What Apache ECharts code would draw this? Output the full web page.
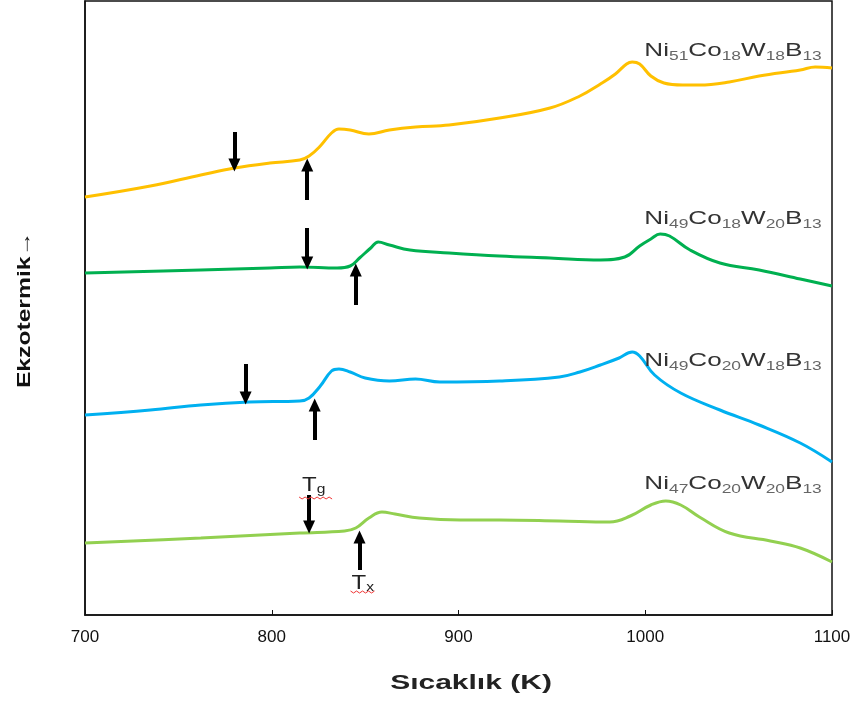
<!DOCTYPE html>
<html><head><meta charset="utf-8">
<script src="https://cdn.jsdelivr.net/npm/echarts@6/dist/echarts.min.js"></script>
<style>html,body{margin:0;padding:0;background:#fff}#c{width:864px;height:702px}</style>
</head><body><div id="c"></div>
<script>
// x ticks
const xTicks = [700, 800, 900, 1000, 1100];
// Curves: [temperature K, signal (arb. units)]
const sYellow = [[700,418],[735,429],[762,440],[780,447],[799,452],[815,455],[820,459],[826,469],[832,482],[836,486],[842,485],[852,481],[863,485],[877,488],[895,490],[922,497],[949,507],[965,519],[976,531],[984,541],[990,551],[993,553],[997,551],[1003,539],[1010,532],[1020,530],[1029,530],[1045,533],[1061,539],[1083,545],[1091,548],[1100,547]];
const sGreen = [[700,342],[762,345],[799,347],[815,348],[835,347],[842,349],[847,357],[853,367],[857,373],[863,370],[874,365],[895,362],[922,359],[949,357],[976,355],[989,358],[997,369],[1003,376],[1008,381],[1013,379],[1024,365],[1040,352],[1061,345],[1083,336],[1100,329]];
const sBlue = [[700,200],[735,205],[762,210],[788,213],[815,214],[820,217],[826,229],[832,244],[836,246],[842,243],[850,237],[863,234],[877,236],[890,233],[922,234],[954,238],[965,243],[976,250],[986,257],[993,263],[997,259],[1005,240],[1019,222],[1040,205],[1061,190],[1083,172],[1100,153]];
const sLight = [[700,72],[762,77],[815,82],[839,84],[845,87],[852,97],[859,103],[866,101],[879,97],[901,95],[922,95],[954,94],[981,93],[992,99],[1003,110],[1011,114],[1019,110],[1029,98],[1045,82],[1067,74],[1083,67],[1100,53]];
const seriesNames = ['Ni51Co18W18B13','Ni49Co18W20B13','Ni49Co20W18B13','Ni47Co20W20B13'];
const seriesColors = ['#FFC000','#00B050','#00B0F0','#92D050'];
// label anchors [K, signal] (right edge)
const labelPos = [[1094,565],[1094,397],[1094,255],[1094,132]];
// arrows: [K, fromSignal, toSignal]
const tgArrows = [[780,483,450],[819,387,352],[786,251,217],[820,120,88]];
const txArrows = [[819,415,450],[845,310,345],[823,175,210],[847,45,78]];
const xTitle = 'Sıcaklık (K)';
const yTitle = 'Ekzotermik→';

const chart = echarts.init(document.getElementById('c'));
const allData = [sYellow, sGreen, sBlue, sLight];
function arrowLines(arr){
  return arr.map(a => [{coord:[a[0],a[1]]},{coord:[a[0],a[2]]}]);
}
const series = allData.map((d,i)=>({
  type:'line', name:seriesNames[i], data:d, smooth:0.4, showSymbol:false,
  lineStyle:{color:seriesColors[i], width:3}, itemStyle:{color:seriesColors[i]},
  z:2
}));
series.push({
  type:'line', data:[], markLine:{
    silent:true, symbol:['none','triangle'], symbolSize:[12,13],
    lineStyle:{color:'#000', width:4, type:'solid'}, itemStyle:{color:'#000'},
    label:{show:false}, animation:false,
    data: arrowLines(tgArrows).concat(arrowLines(txArrows))
  }
});
chart.setOption({
  animation:false,
  grid:{left:85, right:32, top:1, bottom:87, show:true, borderColor:'#111', borderWidth:1.5},
  xAxis:{type:'value', min:xTicks[0], max:xTicks[xTicks.length-1], interval:100,
    axisLine:{lineStyle:{color:'#111', width:1.5}},
    axisTick:{inside:true, length:5, lineStyle:{color:'#111'}},
    axisLabel:{fontSize:17, color:'#111', margin:14, fontFamily:'Liberation Sans', formatter:v=>String(v)},
    splitLine:{show:false}
  },
  yAxis:{type:'value', min:0, max:614,
    axisLine:{show:true, lineStyle:{color:'#111', width:1.5}},
    axisTick:{show:false}, axisLabel:{show:false}, splitLine:{show:false}
  },
  series: series
});

function subText(name){
  const m = name.match(/[A-Z][a-z]?|\d+/g);
  return m.map(t => /\d/.test(t) ? '{s|'+t+'}' : '{m|'+t+'}').join('');
}
const rich = {
  m:{fontSize:18, fontFamily:'Liberation Sans', fill:'#333', color:'#333', lineHeight:20, verticalAlign:'bottom'},
  s:{fontSize:12, fontFamily:'Liberation Sans', fill:'#666', color:'#666', lineHeight:14, verticalAlign:'bottom', padding:[0,0,-3,0]}
};
const graphics = labelPos.map((p,i)=>{
  const px = chart.convertToPixel({gridIndex:0}, p);
  return {type:'text', x:px[0]+1, y:px[1], scaleX:1.45, z:10, style:{text:subText(seriesNames[i]), rich:rich, align:'right', verticalAlign:'middle'}};
});
function wavy(x0, y0, w){
  const pts=[]; for(let x=0;x<=w;x+=3){pts.push([x0+x, y0+((x/3)%2?2:0)]);} return pts;
}
const tg = tgArrows[3], tx = txArrows[3];
const pg = chart.convertToPixel({gridIndex:0}, [tg[0], tg[1]]);
const pxx = chart.convertToPixel({gridIndex:0}, [tx[0], tx[1]]);
const tRich = {
  m:{fontSize:20, fontFamily:'Liberation Sans', fill:'#222', color:'#222'},
  s:{fontSize:13, fontFamily:'Liberation Sans', fill:'#222', color:'#222', padding:[9,0,0,0]}
};
graphics.push({type:'text', x:pg[0]-7, y:pg[1]+1, scaleX:1.2, z:10, style:{text:'{m|T}{s|g}', rich:tRich, align:'left', verticalAlign:'bottom'}});
graphics.push({type:'polyline', z:11, shape:{points:wavy(pg[0]-10, pg[1]+2, 33)}, style:{stroke:'#e33', lineWidth:1, fill:null}});
graphics.push({type:'text', x:pxx[0]-8, y:pxx[1]+2, scaleX:1.2, z:10, style:{text:'{m|T}{s|x}', rich:tRich, align:'left', verticalAlign:'top'}});
graphics.push({type:'polyline', z:11, shape:{points:wavy(pxx[0]-9, pxx[1]+21, 26)}, style:{stroke:'#e33', lineWidth:1, fill:null}});
// axis titles
graphics.push({type:'text', x:471, y:683, scaleX:1.5, z:10, style:{text:xTitle, fontSize:20, fontWeight:'bold', fontFamily:'Liberation Sans', fill:'#222', align:'center', verticalAlign:'middle'}});
graphics.push({type:'text', x:25, y:310, rotation:Math.PI/2, scaleX:1.37, z:10, style:{text:yTitle, fontSize:18, fontWeight:'bold', fontFamily:'Liberation Sans', fill:'#111', align:'center', verticalAlign:'middle'}});
chart.setOption({graphic:graphics});
</script></body></html>
